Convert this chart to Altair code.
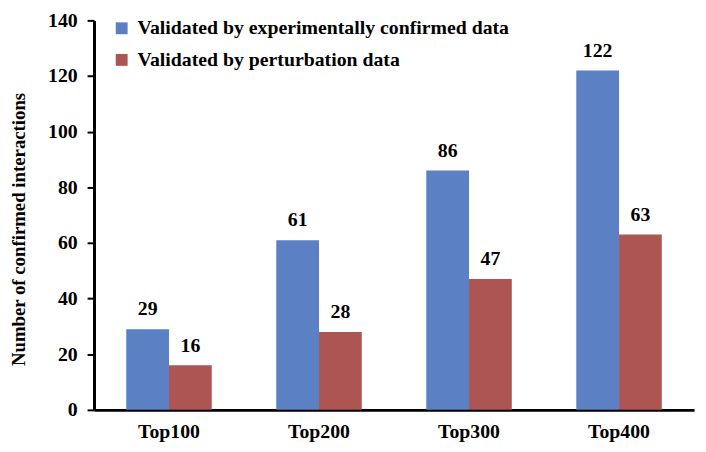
import altair as alt
import pandas as pd

categories = ["Top100", "Top200", "Top300", "Top400"]
series = ["Validated by experimentally confirmed data", "Validated by perturbation data"]
experimental = [29, 61, 86, 122]
perturbation = [16, 28, 47, 63]
colors = ["#5B80C4", "#AD5553"]
y_ticks = [0, 20, 40, 60, 80, 100, 120, 140]

rows = []
for c, a, b in zip(categories, experimental, perturbation):
    rows.append({"cat": c, "series": series[0], "value": a})
    rows.append({"cat": c, "series": series[1], "value": b})
df = pd.DataFrame(rows)

FONT = "'Liberation Serif', 'Times New Roman', 'DejaVu Serif', serif"

x = alt.X(
    "cat:N", sort=categories, title=None,
    scale=alt.Scale(paddingInner=0.43, paddingOuter=0.215),
    axis=alt.Axis(labelAngle=0, ticks=False, domainWidth=3, domainColor="black",
                  labelFont=FONT, labelFontSize=20, labelFontWeight="bold",
                  labelColor="black", labelPadding=12),
)
xo = alt.XOffset("series:N", sort=series, scale=alt.Scale(paddingInner=0, paddingOuter=0))
y = alt.Y(
    "value:Q", title="Number of confirmed interactions",
    scale=alt.Scale(domain=[0, 140], nice=False),
    axis=alt.Axis(values=y_ticks, grid=False, domainWidth=3, domainColor="black",
                  tickColor="black", tickWidth=2, tickSize=7,
                  labelFont=FONT, labelFontSize=20, labelFontWeight="bold",
                  labelColor="black", labelPadding=10,
                  titleFont=FONT, titleFontSize=19, titleFontWeight="bold",
                  titleColor="black", titleX=-76, titleY=211, titleBaseline="middle"),
)
color = alt.Color(
    "series:N", sort=series,
    scale=alt.Scale(domain=series, range=colors),
    legend=alt.Legend(title=None, orient="none", legendX=18, legendY=-2,
                      symbolType="square", symbolSize=144, symbolStrokeWidth=0,
                      symbolOpacity=1,
                      labelFont=FONT, labelFontSize=20, labelFontWeight="bold",
                      labelColor="black", labelOffset=6, labelLimit=600,
                      rowPadding=12),
)

base = alt.Chart(df)
bars = base.mark_bar(opacity=1).encode(x=x, xOffset=xo, y=y, color=color)
labels = base.mark_text(font=FONT, fontSize=20, fontWeight="bold", color="black",
                        baseline="alphabetic", dy=-14).encode(
    x=x, xOffset=xo, y=y, text="value:Q")

chart = (bars + labels).properties(
    width=607, height=394,
    padding={"left": 87, "top": 10, "right": 4, "bottom": 32},
    autosize=alt.AutoSizeParams(type="none"),
).configure_view(stroke=None)

chart.save("out.html", embed_options={"renderer": "svg", "actions": False})
